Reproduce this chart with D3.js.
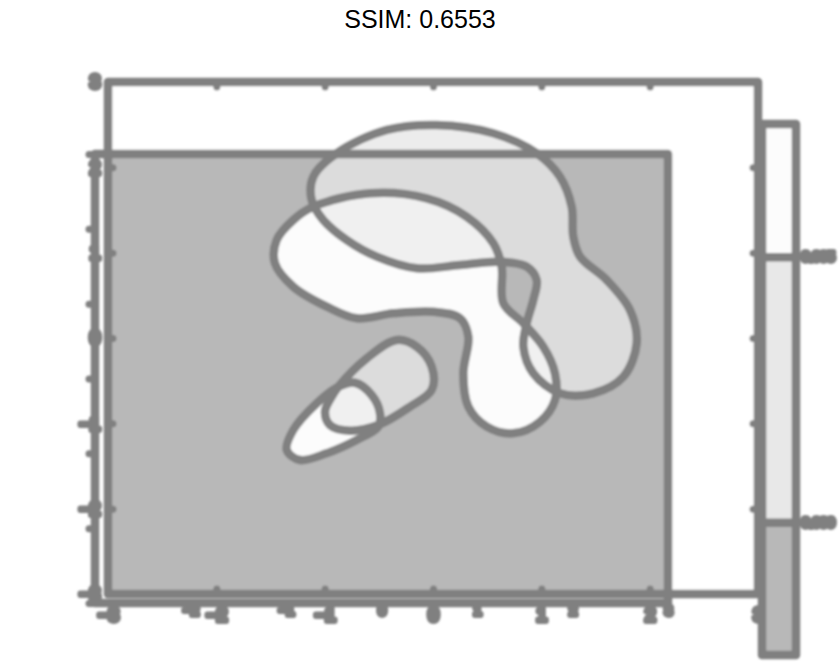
<!DOCTYPE html>
<html>
<head>
<meta charset="utf-8">
<script src="https://cdn.jsdelivr.net/npm/d3@7"></script>
<style>
html,body{margin:0;padding:0;background:#fff;}
svg{display:block;}
</style>
</head>
<body>
<svg id="chart" width="840" height="664"></svg>
<script>
// ---- data ----
const titleText = "SSIM: 0.6553";
const ticksA = [-3, -2, -1, 0, 1, 2, 3];
const innerTicksA = [-2, -1, 0, 1, 2];
const ticksB = [-3, -2, -1, 0, 1, 2, 3];
const colorbarBands = [[0, 1], [1, 3], [3, 4]];
const colorbarColors = ["#b8b8b8", "#e8e8e8", "#fcfcfc"];
const colorbarTicks = [1, 3];
const colorbarLabels = ["0.000", "0.005"];

// contour outlines (data units of panel A)
const contourUpper = [
  [-0.889,2.165],[-1.105,1.890],[-1.120,1.617],[-1.013,1.383],[-0.797,1.148],[-0.520,0.953],
  [-0.150,0.817],[0.249,0.855],[0.618,0.894],[0.865,0.836],[0.957,0.680],[0.926,0.445],
  [0.865,0.172],[0.834,-0.102],[0.926,-0.414],[1.172,-0.648],[1.480,-0.648],[1.757,-0.454],
  [1.880,-0.062],[1.818,0.328],[1.603,0.680],[1.357,0.953],[1.295,1.187],[1.280,1.539],
  [1.172,1.890],[0.957,2.165],[0.557,2.399],[0.034,2.496],[-0.427,2.438]
];
const contourHook = [
  [-1.105,1.539],[-0.582,1.696],[-0.058,1.637],[0.311,1.422],[0.557,1.110],[0.634,0.836],
  [0.649,0.407],[0.834,0.172],[1.018,-0.102],[1.126,-0.414],[1.126,-0.727],[0.988,-0.981],
  [0.741,-1.117],[0.496,-1.039],[0.326,-0.805],[0.280,-0.414],[0.326,0.015],[0.249,0.231],
  [0.003,0.308],[-0.366,0.289],[-0.704,0.231],[-0.981,0.367],[-1.290,0.601],[-1.459,0.875],
  [-1.443,1.148],[-1.290,1.383]
];
const contourSmallUpper = [
  [-0.874,-0.571],[-0.612,-0.238],[-0.335,-0.023],[-0.150,-0.102],[-0.012,-0.336],[-0.012,-0.609],
  [-0.212,-0.805],[-0.505,-1.020],[-0.766,-1.086],[-0.951,-1.020],[-0.997,-0.864],[-0.935,-0.688]
];
const contourSmallLower = [
  [-0.874,-0.571],[-0.720,-0.524],[-0.566,-0.668],[-0.489,-0.882],[-0.505,-1.039],[-0.704,-1.195],
  [-0.981,-1.351],[-1.228,-1.430],[-1.350,-1.313],[-1.290,-1.078],[-1.074,-0.765]
];

// ---- drawing ----
const svg = d3.select("#chart");
const gray = "#808080";
const SW = 8.5;

const defs = svg.append("defs");
defs.append("filter").attr("id","soft").attr("x","-5%").attr("y","-5%").attr("width","110%").attr("height","110%")
  .append("feGaussianBlur").attr("stdDeviation", 0.9);

// scales
const xA = d3.scaleLinear().domain([-3,3]).range([108,758]);
const yA = d3.scaleLinear().domain([-3,3]).range([594,82]);
const xB = d3.scaleLinear().domain([-3,3]).range([95,668]);
const yB = d3.scaleLinear().domain([-3,3]).range([603,154]);
const yC = d3.scaleLinear().domain([0,4]).range([655,124]);

const line = d3.line().x(d=>xA(d[0])).y(d=>yA(d[1])).curve(d3.curveCatmullRomClosed.alpha(0.5));

const g = svg.append("g").attr("filter","url(#soft)");

// panel A background
g.append("rect").attr("x",xA(-3)).attr("y",yA(3)).attr("width",xA(3)-xA(-3)).attr("height",yA(-3)-yA(3)).attr("fill","#fff");
// panel B gray background
g.append("rect").attr("x",xA(-3)+1).attr("y",yB(3)).attr("width",xB(3)-xA(-3)-1).attr("height",yA(-3)-yB(3)).attr("fill","#b8b8b8");

// clip paths
defs.append("clipPath").attr("id","clipGray").append("rect")
  .attr("x",xA(-3)).attr("y",yB(3)).attr("width",xB(3)-xA(-3)).attr("height",yA(-3)-yB(3));
defs.append("clipPath").attr("id","clipHook").append("path").attr("d",line(contourHook));
defs.append("clipPath").attr("id","clipSmallUpper").append("path").attr("d",line(contourSmallUpper));

// fills
g.append("path").attr("d",line(contourUpper)).attr("fill","#ececec");
g.append("path").attr("d",line(contourUpper)).attr("fill","#dcdcdc").attr("clip-path","url(#clipGray)");
g.append("path").attr("d",line(contourHook)).attr("fill","#fcfcfc");
g.append("path").attr("d",line(contourUpper)).attr("fill","#f0f0f0").attr("clip-path","url(#clipHook)");
g.append("path").attr("d",line(contourSmallUpper)).attr("fill","#dcdcdc");
g.append("path").attr("d",line(contourSmallLower)).attr("fill","#fcfcfc");
g.append("path").attr("d",line(contourSmallLower)).attr("fill","#f0f0f0").attr("clip-path","url(#clipSmallUpper)");

// contour strokes
[contourUpper, contourHook, contourSmallUpper, contourSmallLower].forEach(c=>{
  g.append("path").attr("d",line(c)).attr("fill","none").attr("stroke",gray).attr("stroke-width",SW);
});

// panel B frame
g.append("rect").attr("x",xB(-3)).attr("y",yB(3)).attr("width",xB(3)-xB(-3)).attr("height",yB(-3)-yB(3))
  .attr("fill","none").attr("stroke",gray).attr("stroke-width",SW).attr("stroke-linejoin","round");
// panel A frame
g.append("rect").attr("x",xA(-3)).attr("y",yA(3)).attr("width",xA(3)-xA(-3)).attr("height",yA(-3)-yA(3))
  .attr("fill","none").attr("stroke",gray).attr("stroke-width",SW).attr("stroke-linejoin","round");

function styleAxis(sel, fs, sw){
  fs = fs || 16; sw = sw || 5;
  sel.select(".domain").remove();
  sel.selectAll(".tick line").attr("stroke",gray).attr("stroke-width",7).attr("stroke-linecap","round");
  sel.selectAll(".tick text").attr("fill",gray).attr("stroke",gray).attr("stroke-width",sw)
    .attr("stroke-linejoin","round").attr("stroke-linecap","round")
    .style("font-family","Liberation Sans, Arial, sans-serif").style("font-size",fs+"px");
}

// panel B axes
g.append("g").attr("transform",`translate(${xB(-3)},0)`)
  .call(d3.axisLeft(yB).tickValues(ticksB).tickSize(6).tickFormat(""))
  .call(s=>styleAxis(s));
g.append("g").attr("transform",`translate(0,${yB(-3)})`)
  .call(d3.axisBottom(xB).tickValues(ticksB.slice(1)).tickSize(0).tickPadding(3).tickFormat(d3.format("d")))
  .call(s=>styleAxis(s, 13, 6));

// panel A axes: inner mirrored ticks
g.append("g").attr("transform",`translate(${xA(-3)},0)`)
  .call(d3.axisLeft(yA).tickValues(innerTicksA).tickSize(-5).tickFormat(""))
  .call(s=>styleAxis(s));
g.append("g").attr("transform",`translate(${xA(3)},0)`)
  .call(d3.axisRight(yA).tickValues(innerTicksA).tickSize(-5).tickFormat(""))
  .call(s=>styleAxis(s));
g.append("g").attr("transform",`translate(0,${yA(3)})`)
  .call(d3.axisTop(xA).tickValues(innerTicksA).tickSize(-5).tickFormat(""))
  .call(s=>styleAxis(s));
g.append("g").attr("transform",`translate(0,${yA(-3)})`)
  .call(d3.axisBottom(xA).tickValues(innerTicksA).tickSize(-5).tickFormat(""))
  .call(s=>styleAxis(s));
// panel A labels
g.append("g").attr("transform",`translate(${xA(-3)},0)`)
  .call(d3.axisLeft(yA).tickValues(ticksA).tickSize(0).tickPadding(8).tickFormat(d3.format("d")))
  .call(s=>styleAxis(s, 18, 6));
g.append("g").attr("transform",`translate(0,${yA(-3)})`)
  .call(d3.axisBottom(xA).tickValues(ticksA).tickSize(0).tickPadding(14).tickFormat(d3.format("d")))
  .call(s=>styleAxis(s, 18, 6));

// colorbar
const cbX = 762, cbW = 34;
g.selectAll("rect.band").data(colorbarBands).join("rect").attr("class","band")
  .attr("x",cbX).attr("width",cbW)
  .attr("y",d=>yC(d[1])).attr("height",d=>yC(d[0])-yC(d[1]))
  .attr("fill",(d,i)=>colorbarColors[i]);
g.append("rect").attr("x",cbX).attr("y",yC(4)).attr("width",cbW).attr("height",yC(0)-yC(4))
  .attr("fill","none").attr("stroke",gray).attr("stroke-width",SW).attr("stroke-linejoin","round");
g.append("g").attr("transform",`translate(${cbX},0)`)
  .call(d3.axisRight(yC).tickValues(colorbarTicks).tickSize(cbW+4).tickPadding(2).tickFormat((d,i)=>colorbarLabels[i]))
  .call(s=>styleAxis(s, 13, 6))
  .call(s=>s.selectAll(".tick line").attr("stroke-width",SW).attr("stroke-linecap","butt"));

// title
svg.append("text").attr("x",420).attr("y",28).attr("text-anchor","middle")
  .style("font-family","Liberation Sans, Arial, sans-serif").style("font-size","25px").attr("fill","#000")
  .text(titleText);
</script>
</body>
</html>
